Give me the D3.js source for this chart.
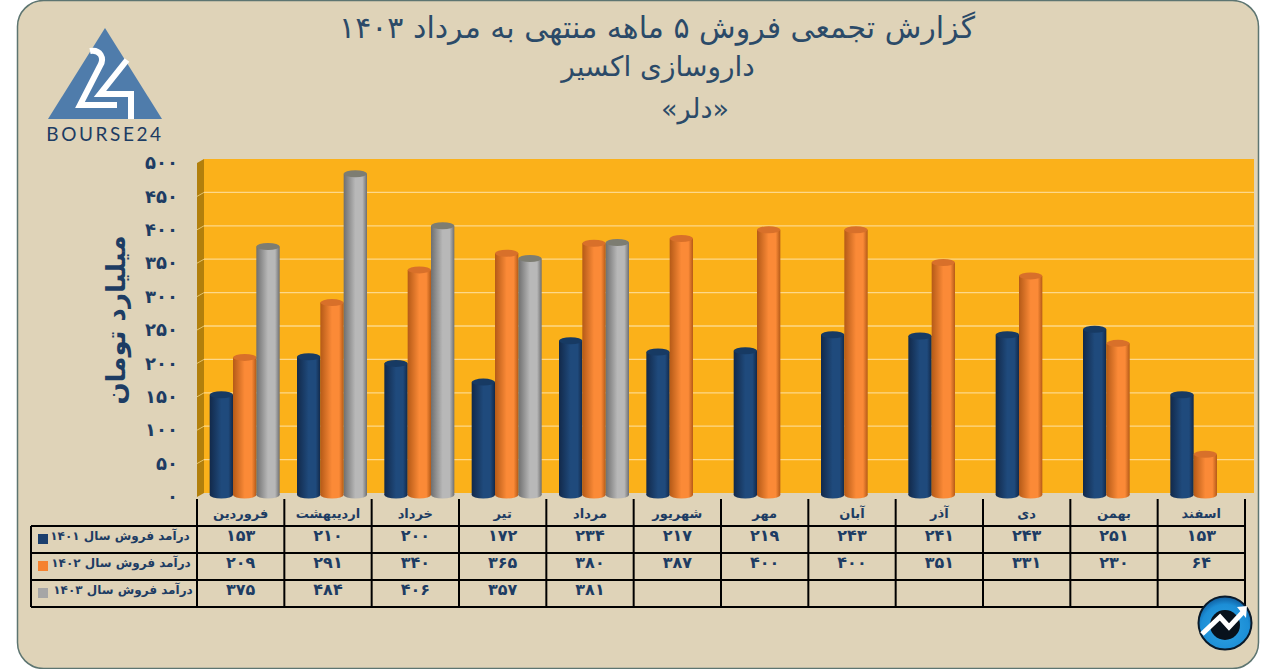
<!DOCTYPE html>
<html lang="fa">
<head>
<meta charset="utf-8">
<script src="https://cdn.jsdelivr.net/npm/d3@7/dist/d3.min.js"></script>
<style>
html,body{margin:0;padding:0;background:#fff}
svg{display:block}
text{font-family:"DejaVu Sans","Noto Sans",sans-serif}
</style>
</head>
<body>
<svg id="c" width="1271" height="669"></svg>
<script>
const months = ["فروردین","اردیبهشت","خرداد","تیر","مرداد","شهریور","مهر","آبان","آذر","دی","بهمن","اسفند"];
const seriesNames = ["درآمد فروش سال ۱۴۰۱","درآمد فروش سال ۱۴۰۲","درآمد فروش سال ۱۴۰۳"];
const sales1401 = [153,210,200,172,234,217,219,243,241,243,251,153];
const sales1402 = [209,291,340,365,380,387,400,400,351,331,230,64];
const sales1403 = [375,484,406,357,381,null,null,null,null,null,null,null];
const yTicks = [0,50,100,150,200,250,300,350,400,450,500];
const titleLines = ["گزارش تجمعی فروش ۵ ماهه منتهی به مرداد ۱۴۰۳","داروسازی اکسیر","«دلر»"];
const yTitle = "میلیارد تومان";
const allSeries = [sales1401,sales1402,sales1403];
const palette = [
  {edge:"#12294a",mid:"#1f4a7c",top:"#173a63",swatch:"#1b3f6e"},
  {edge:"#b55a17",mid:"#fb8a37",top:"#d8702a",swatch:"#f5822f"},
  {edge:"#6f6f6f",mid:"#b8b8b8",top:"#7d7d72",swatch:"#a6a6a6"}
];
const fa = n => String(n).replace(/\d/g,d=>"۰۱۲۳۴۵۶۷۸۹"[d]);
const navy = "#1d3c63";

const svg = d3.select("#c");
const defs = svg.append("defs");
palette.forEach((p,i)=>{
  const g = defs.append("linearGradient").attr("id","cyl"+i);
  g.append("stop").attr("offset",0).attr("stop-color",p.edge);
  g.append("stop").attr("offset",.5).attr("stop-color",p.mid);
  g.append("stop").attr("offset",.8).attr("stop-color",p.mid);
  g.append("stop").attr("offset",1).attr("stop-color",p.edge);
});
const ball = defs.append("radialGradient").attr("id","ball").attr("cx",.5).attr("cy",.6).attr("r",.6);
ball.append("stop").attr("offset",0).attr("stop-color","#2fa4e4");
ball.append("stop").attr("offset",.75).attr("stop-color","#1c8ed6");
ball.append("stop").attr("offset",1).attr("stop-color","#0f5b9c");

// card
svg.append("rect").attr("x",17.5).attr("y",.5).attr("width",1241).attr("height",668)
  .attr("rx",26).attr("fill","#dfd3b8").attr("stroke","#5d7571").attr("stroke-width",1.5);

// title
svg.append("g").selectAll("text").data(titleLines).join("text")
  .attr("x",(d,i)=>[657,658,695][i]).attr("y",(d,i)=>[38,76,118][i])
  .attr("text-anchor","middle").attr("direction","rtl")
  .attr("font-size",(d,i)=>[30,28,27][i]).attr("fill","#2b4a68").text(d=>d);

// scales
const x = d3.scaleBand().domain(months).range([197,1245]);
const y = d3.scaleLinear().domain([0,500]).range([495,161]);
const xs = d3.scaleBand().domain([0,1,2]).range([0,70]);
const wallL = 204, wallR = 1254, wallShift = -2, sideDx = 7, sideDy = 4, barTopShift = 2;

// wall
const plot = svg.append("g");
plot.append("rect").attr("x",wallL).attr("y",y(500)+wallShift).attr("width",wallR-wallL)
  .attr("height",y(0)-y(500)).attr("fill","#fbb11a");
plot.append("polygon").attr("fill","#b27f0c").attr("points",[
  [wallL,y(500)+wallShift],[wallL,y(0)+wallShift],[wallL-sideDx,y(0)+wallShift+sideDy],[wallL-sideDx,y(500)+wallShift+sideDy]
].join(" "));
const gridTicks = yTicks.filter(t=>t>0&&t<500);
plot.selectAll("line.g").data(gridTicks).join("line").attr("class","g")
  .attr("x1",wallL).attr("x2",wallR).attr("y1",d=>y(d)+wallShift).attr("y2",d=>y(d)+wallShift)
  .attr("stroke","#fdd889").attr("stroke-width",1.3);
plot.selectAll("line.s").data(gridTicks).join("line").attr("class","s")
  .attr("x1",wallL).attr("x2",wallL-sideDx).attr("y1",d=>y(d)+wallShift).attr("y2",d=>y(d)+wallShift+sideDy)
  .attr("stroke","#e6c36a").attr("stroke-width",1);

// y axis
const axis = svg.append("g").attr("transform","translate(180,2)")
  .call(d3.axisLeft(y).tickValues(yTicks).tickSize(0).tickPadding(2).tickFormat(fa));
axis.select(".domain").remove();
axis.selectAll("text").attr("font-size",18).attr("font-weight",700).attr("fill",navy)
  .style("font-family",'"DejaVu Sans",sans-serif');

// y title
svg.append("text").attr("transform","translate(125,320) rotate(-90)")
  .attr("text-anchor","middle").attr("direction","rtl")
  .attr("font-size",26).attr("font-weight",700).attr("fill",navy).text(yTitle);

// bars
const barData = months.flatMap((m,mi)=>allSeries.map((s,si)=>({m,si,v:s[mi]}))).filter(d=>d.v!=null);
const ry = 3.5;
const bx = d => x(d.m)+x.bandwidth()/2+4-35+xs(d.si);
const topY = d => y(d.v)+barTopShift;
const bars = svg.append("g").selectAll("g").data(barData).join("g");
bars.append("ellipse").attr("cx",d=>bx(d)+xs.bandwidth()/2).attr("cy",y(0)).attr("rx",xs.bandwidth()/2).attr("ry",ry)
  .attr("fill",d=>`url(#cyl${d.si})`);
bars.append("rect").attr("x",bx).attr("y",topY).attr("width",xs.bandwidth())
  .attr("height",d=>y(0)-topY(d)).attr("fill",d=>`url(#cyl${d.si})`);
bars.append("ellipse").attr("cx",d=>bx(d)+xs.bandwidth()/2).attr("cy",topY).attr("rx",xs.bandwidth()/2).attr("ry",ry)
  .attr("fill",d=>palette[d.si].top);

// table
const rowY = [526,553,580,607];
const tableLeft = 31, headTop = 499;
const table = svg.append("g").attr("stroke","#000").attr("stroke-width",2);
table.selectAll("line.h").data(rowY).join("line").attr("class","h")
  .attr("x1",tableLeft).attr("x2",x.range()[1]).attr("y1",d=>d).attr("y2",d=>d);
table.selectAll("line.v").data(months.map(m=>x(m)).concat(x.range()[1])).join("line").attr("class","v")
  .attr("x1",d=>d).attr("x2",d=>d).attr("y1",headTop).attr("y2",rowY[3]);
table.append("line").attr("x1",tableLeft).attr("x2",tableLeft).attr("y1",rowY[0]).attr("y2",rowY[3]);

svg.append("g").selectAll("text").data(months).join("text")
  .attr("x",d=>x(d)+x.bandwidth()/2).attr("y",518)
  .attr("text-anchor","middle").attr("direction","rtl")
  .attr("font-size",13).attr("font-weight",700).attr("fill",navy).text(d=>d);

allSeries.forEach((s,si)=>{
  const g = svg.append("g");
  g.selectAll("text").data(months.map((m,i)=>({m,v:s[i]})).filter(d=>d.v!=null)).join("text")
    .attr("x",d=>x(d.m)+x.bandwidth()/2).attr("y",rowY[si]+15)
    .attr("text-anchor","middle").attr("font-size",16).attr("font-weight",700).attr("fill",navy)
    .text(d=>fa(d.v));
  g.append("rect").attr("x",38).attr("y",rowY[si]+8).attr("width",10).attr("height",10).attr("fill",palette[si].swatch);
  g.append("text").attr("x",[120,121,123][si]).attr("y",rowY[si]+14).attr("text-anchor","middle").attr("direction","rtl")
    .attr("font-size",12).attr("font-weight",700).attr("fill",navy).text(seriesNames[si]);
});

// logo
const logo = svg.append("g");
logo.append("polygon").attr("points","105,28 48,119 162,119").attr("fill","#4f7cab");
logo.append("path").attr("fill","none").attr("stroke","#fff").attr("stroke-width",6)
  .attr("d","M90,51 C100,49 105,58 100,66 L80,105 L117,105");
logo.append("path").attr("fill","none").attr("stroke","#fff").attr("stroke-width",6)
  .attr("d","M127,60 L100,94 L131,94 L131,119");
logo.append("text").attr("x",105).attr("y",141).attr("text-anchor","middle").attr("font-size",19)
  .attr("letter-spacing",2.6).attr("fill","#1d3c63").style("font-family",'"Lato",sans-serif').text("BOURSE24");

// badge
const badge = svg.append("g");
badge.append("circle").attr("cx",1225).attr("cy",623).attr("r",26.5).attr("fill","url(#ball)").attr("stroke","#0a1a2a").attr("stroke-width",2);
badge.append("circle").attr("cx",1225).attr("cy",625).attr("r",15).attr("fill","#08121c");
badge.append("path").attr("fill","none").attr("stroke","#fff").attr("stroke-width",5)
  .attr("d","M1202,634 L1220,617 L1229,627 L1243,612");
badge.append("polygon").attr("points","1237,607 1247,606 1246,618").attr("fill","#fff");
</script>
</body>
</html>
